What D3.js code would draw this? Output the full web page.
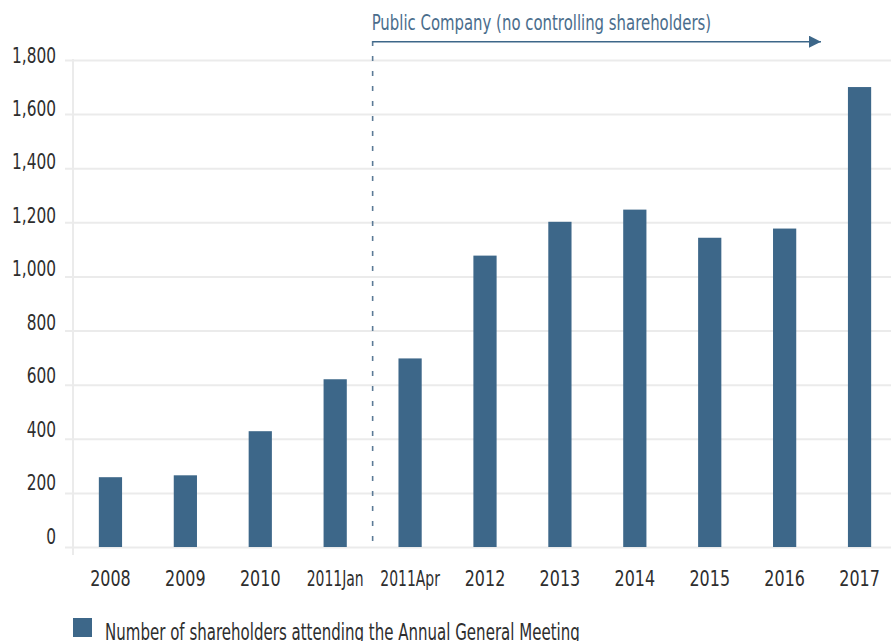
<!DOCTYPE html>
<html>
<head>
<meta charset="utf-8">
<script src="https://cdn.jsdelivr.net/npm/d3@7/dist/d3.min.js"></script>
<style>
  html, body { margin: 0; padding: 0; background: #fff; }
  svg { display: block; }
  text { font-family: "DejaVu Sans", sans-serif; }
</style>
</head>
<body>
<svg id="chart" width="891" height="641"></svg>
<script>
const categories = ["2008","2009","2010","2011Jan","2011Apr","2012","2013","2014","2015","2016","2017"];
const attendees = [258, 265, 428, 620, 697, 1077, 1202, 1247, 1143, 1177, 1700];
const yTicks = [0, 200, 400, 600, 800, 1000, 1200, 1400, 1600, 1800];
const seriesName = "Number of shareholders attending the Annual General Meeting";
const annotation = "Public Company (no controlling shareholders)";
const dividerBetween = ["2011Jan", "2011Apr"];

(function () {
const svg = d3.select("#chart");
const W = 891;
const mLeft = 73, mTop = 60, mBottom = 547;
const barColor = "#3d6789";
const gridColor = "#ebebeb";
const textColor = "#2e2e2e";

// squeeze DejaVu horizontally (scale transform) to imitate a condensed face
function condense(sel, factorFn) {
  sel.each(function (d) {
    const f = typeof factorFn === "function" ? factorFn(d, this) : factorFn;
    const t = d3.select(this);
    const x0 = +t.attr("x") || 0;
    t.attr("x", x0 / f).attr("transform", `scale(${f},1)`);
  });
}

const x = d3.scaleBand().domain(categories).range([mLeft, 897]).paddingInner(0.69).paddingOuter(0.345);
const y = d3.scaleLinear().domain([0, 1800]).range([mBottom, mTop]);

// gridlines + y labels
const yAxis = d3.axisLeft(y).tickValues(yTicks).tickFormat(d3.format(","))
  .tickSize(-(W - mLeft)).tickSizeOuter(0).tickPadding(17);
const gy = svg.append("g").attr("transform", `translate(${mLeft},0)`).call(yAxis);
gy.select(".domain").remove();
gy.selectAll(".tick line").attr("stroke", gridColor).attr("stroke-width", 2).attr("x1", -8);
gy.selectAll(".tick text").attr("fill", textColor).attr("font-size", 20.5)
  .attr("dy", d => (2 - 6 * (1 - d / 1800)))
  .call(condense, 0.75);

// vertical axis line
svg.append("line").attr("x1", mLeft).attr("x2", mLeft).attr("y1", mTop - 1).attr("y2", mBottom + 8)
  .attr("stroke", gridColor).attr("stroke-width", 2);

// bars
svg.append("g").selectAll("rect").data(categories).join("rect")
  .attr("x", d => x(d))
  .attr("width", x.bandwidth())
  .attr("y", (d, i) => y(attendees[i]))
  .attr("height", (d, i) => y(0) - y(attendees[i]))
  .attr("fill", barColor);

// x labels
const xAxis = d3.axisBottom(x).tickSize(0).tickPadding(0);
const gx = svg.append("g").attr("transform", `translate(0,${mBottom})`).call(xAxis);
gx.select(".domain").remove();
gx.selectAll(".tick text").attr("fill", textColor).attr("font-size", 21)
  .attr("y", 39).attr("dy", 0)
  .call(condense, d => (/^\d+$/.test(d) ? 0.76 : 0.665));

// divider
const xDiv = (x(dividerBetween[0]) + x.bandwidth() + x(dividerBetween[1])) / 2;
svg.append("line").attr("x1", xDiv).attr("x2", xDiv).attr("y1", 41).attr("y2", mBottom)
  .attr("stroke", "#5b7a96").attr("stroke-width", 1.6).attr("stroke-dasharray", "5,10");

// arrow
svg.append("defs").append("marker").attr("id", "arrowhead")
  .attr("viewBox", "0 0 12 12").attr("refX", 12).attr("refY", 6)
  .attr("markerWidth", 12).attr("markerHeight", 12).attr("markerUnits", "userSpaceOnUse")
  .attr("orient", "auto")
  .append("path").attr("d", "M0,0 L12,6 L0,12 Z").attr("fill", "#3d6789");
svg.append("line").attr("x1", xDiv).attr("x2", 821).attr("y1", 41.7).attr("y2", 41.7)
  .attr("stroke", "#3d6789").attr("stroke-width", 1.5).attr("marker-end", "url(#arrowhead)");
svg.append("text").attr("x", xDiv - 1).attr("y", 30).attr("fill", "#4a6d8c")
  .attr("font-size", 20.5).text(annotation)
  .call(condense, (d, node) => 340 / node.getComputedTextLength());

// legend
svg.append("rect").attr("x", 73).attr("y", 618).attr("width", 19).attr("height", 19).attr("fill", barColor);
svg.append("text").attr("x", 105).attr("y", 640).attr("fill", textColor).attr("font-size", 22.5).text(seriesName)
  .call(condense, (d, node) => 475 / node.getComputedTextLength());
})();
</script>
</body>
</html>
